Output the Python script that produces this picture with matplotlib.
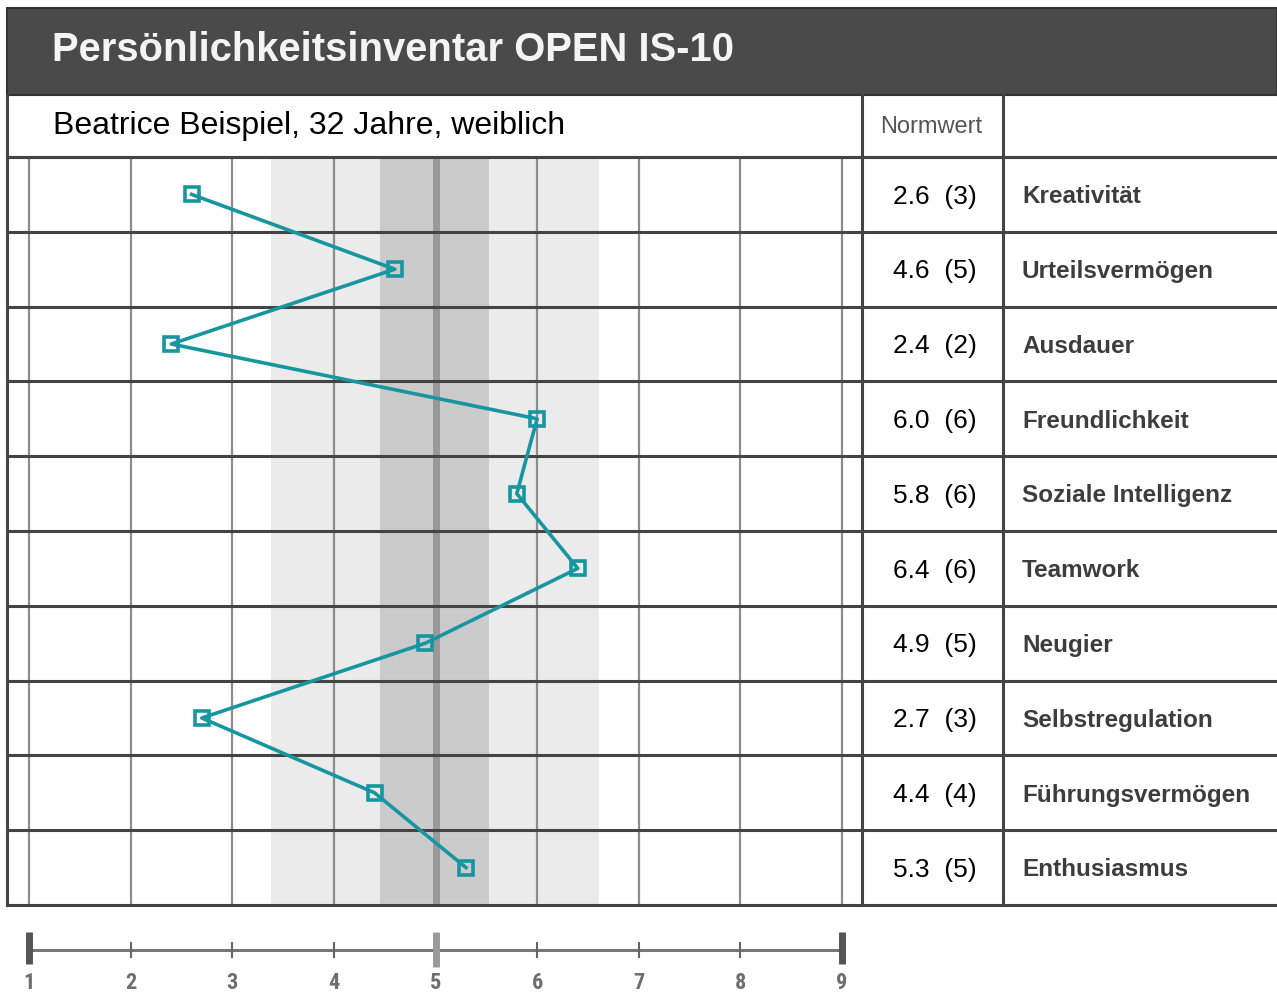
import matplotlib
matplotlib.use("Agg")
import matplotlib.pyplot as plt
from matplotlib.patches import Rectangle

# ---------------- data ----------------
title = "Persönlichkeitsinventar OPEN IS-10"
subtitle = "Beatrice Beispiel, 32 Jahre, weiblich"
norm_header = "Normwert"
traits = ["Kreativität", "Urteilsvermögen", "Ausdauer", "Freundlichkeit",
          "Soziale Intelligenz", "Teamwork", "Neugier", "Selbstregulation",
          "Führungsvermögen", "Enthusiasmus"]
scores = [2.6, 4.6, 2.4, 6.0, 5.8, 6.4, 4.9, 2.7, 4.4, 5.3]
stanines = [3, 5, 2, 6, 6, 6, 5, 3, 4, 5]
scale_ticks = [1, 2, 3, 4, 5, 6, 7, 8, 9]
mean_value = 5
band_outer = (3.38, 6.61)
band_inner = (4.45, 5.53)

# ---------------- layout helpers ----------------
W, H = 1277, 993
fig = plt.figure(figsize=(W / 100, H / 100), dpi=100)
fig.patch.set_facecolor("white")


def box(x0, y0, x1, y1):
    return [x0 / W, 1 - y1 / H, (x1 - x0) / W, (y1 - y0) / H]


TEAL = "#1796a0"
DARK = "#444444"
GRID = "#8c8c8c"
X0_PX, X9_PX = 29.0, 842.0
unit = (X9_PX - X0_PX) / 8.0
xlim = (1 - (X0_PX - 7) / unit, 1 + (862 - X0_PX) / unit)
n = len(traits)

# overlay axes in pixel coordinates (header, frames)
ov = fig.add_axes([0, 0, 1, 1], zorder=0)
ov.set_xlim(0, W)
ov.set_ylim(H, 0)
ov.axis("off")
ov.add_patch(Rectangle((7, 8), W - 7, 87, facecolor="#4a4a4a", edgecolor="#333333", lw=1.5))
ov.text(52, 50, title, color="#f4f4f4", fontsize=28.8, fontweight="bold",
        family="Liberation Sans", va="center", ha="left")
ov.text(53, 126, subtitle, color="black", fontsize=23, family="Liberation Sans",
        va="center", ha="left")
ov.text(931, 127, norm_header, color="#555555", fontsize=17, family="Liberation Sans",
        va="center", ha="center")
# frame lines of subtitle row
ov.plot([7, W], [157, 157], color=DARK, lw=2.2)
ov.plot([7, 7], [95, 905], color=DARK, lw=2.2)
ov.plot([862, 862], [95, 905], color=DARK, lw=2.2)
ov.plot([1003, 1003], [95, 905], color=DARK, lw=2.2)

# ---------------- main chart ----------------
ax = fig.add_axes(box(7, 157, 862, 905), zorder=2)
ax.set_facecolor("none")
ax.set_xlim(*xlim)
ax.set_ylim(n - 0.5, -0.5)
ax.axis("off")
ax.axvspan(*band_outer, color="#ebebeb", lw=0, zorder=0)
ax.axvspan(*band_inner, color="#cbcbcb", lw=0, zorder=0.5)
for t in scale_ticks:
    ax.axvline(t, color=GRID, lw=1.6, zorder=1)
ax.axvline(mean_value, color="#999999", lw=5, zorder=1.5)
for i in range(n + 1):
    ax.axhline(i - 0.5, color=DARK, lw=2.2, zorder=2, clip_on=False)
ypos = list(range(n))
ax.plot(scores, ypos, color=TEAL, lw=2.6, marker="s", markersize=10.5,
        markerfacecolor="none", markeredgecolor=TEAL, markeredgewidth=2.6, zorder=5)

# ---------------- table ----------------
tab = fig.add_axes(box(862, 157, W, 905), sharey=ax, zorder=2)
tab.set_facecolor("none")
tab.set_xlim(862, W)
tab.axis("off")
for i in range(n + 1):
    tab.axhline(i - 0.5, color=DARK, lw=2.2, clip_on=False)
for i, (s, st, name) in enumerate(zip(scores, stanines, traits)):
    tab.text(935, i + 0.03, f"{s:.1f}  ({st})", fontsize=19, family="Liberation Sans",
             color="black", ha="center", va="center")
    tab.text(1022, i + 0.03, name, fontsize=17.5, fontweight="bold",
             family="Liberation Sans", color="#3d3d3d", ha="left", va="center")

# ---------------- bottom scale ----------------
sc = fig.add_axes(box(7, 925, 862, 993), zorder=2)
sc.set_xlim(*xlim)
sc.set_ylim(0, 1)
sc.axis("off")
sc.plot([scale_ticks[0], scale_ticks[-1]], [0.63, 0.63], color="#777777", lw=2.2)
for t in scale_ticks:
    if t in (scale_ticks[0], scale_ticks[-1]):
        sc.plot([t, t], [0.42, 0.9], color="#555555", lw=5, solid_capstyle="butt")
    elif t == mean_value:
        sc.plot([t, t], [0.38, 0.9], color="#9a9a9a", lw=5, solid_capstyle="butt")
    else:
        sc.plot([t, t], [0.53, 0.74], color="#666666", lw=1.5)
    sc.text(t, 0.15, str(t), fontsize=16, fontweight="bold", family="Roboto Condensed",
            color="#6e6e6e", ha="center", va="center")

fig.savefig("out.png", dpi=100)
